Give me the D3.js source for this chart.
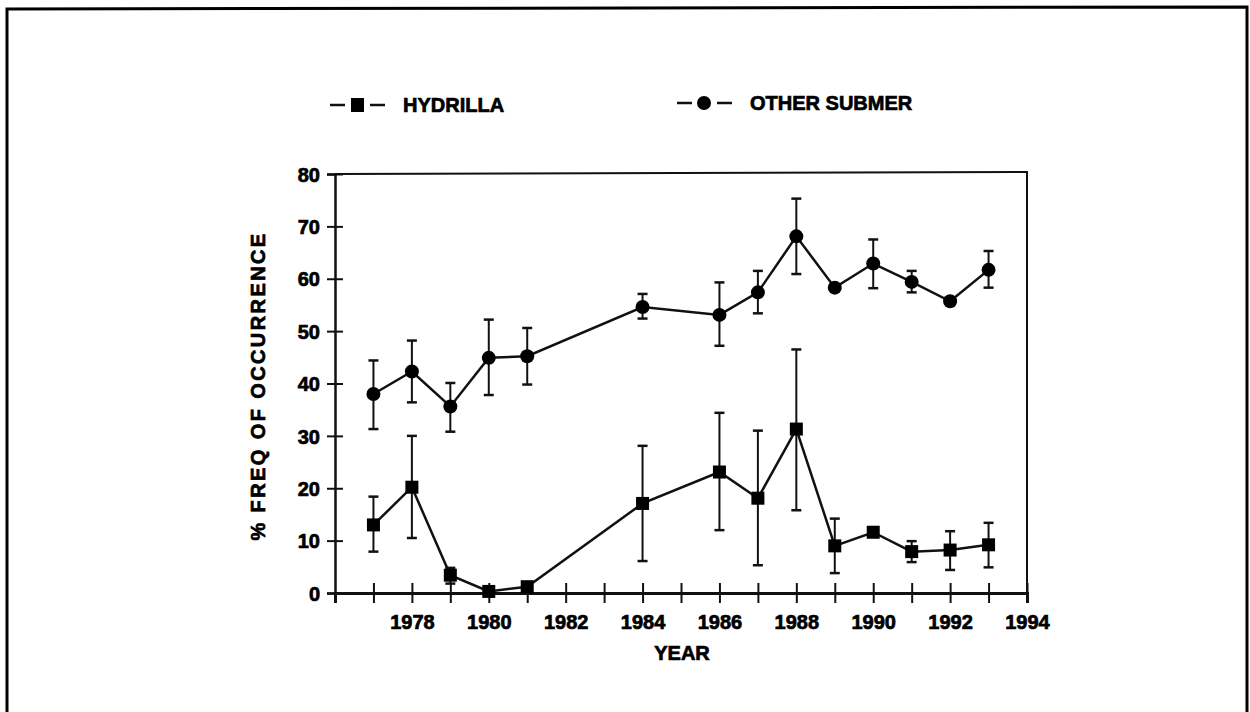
<!DOCTYPE html>
<html>
<head>
<meta charset="utf-8">
<script src="https://cdn.jsdelivr.net/npm/d3@7"></script>
<style>
  body { margin: 0; background: #fff; }
  text { font-family: 'Liberation Sans', Arial, sans-serif; font-weight: bold; fill: #000; stroke: #000; stroke-width: 0.7px; }
</style>
</head>
<body>
<div id="chart"></div>
<script>
// survey data, % frequency of occurrence by year
const years = [1977, 1978, 1979, 1980, 1981, 1984, 1986, 1987, 1988, 1989, 1990, 1991, 1992, 1993]

const hydrilla = [13.0, 20.2, 3.4, 0.3, 1.2, 17.1, 23.1, 18.1, 31.3, 9.0, 11.6, 7.9, 8.2, 9.2]
const hydrillaLo = [7.9, 10.5, 1.8, 0, 0.5, 6.1, 12.0, 5.3, 15.8, 3.8, null, 5.9, 4.4, 4.9]
const hydrillaHi = [18.4, 30.0, 4.8, 0.8, 1.8, 28.1, 34.4, 31.0, 46.5, 14.2, null, 9.9, 11.8, 13.4]

const other = [38.0, 42.3, 35.6, 44.9, 45.2, 54.6, 53.1, 57.4, 68.1, 58.3, 62.9, 59.4, 55.7, 61.7]
const otherLo = [31.3, 36.4, 30.8, 37.8, 39.8, 52.4, 47.2, 53.4, 60.9, null, 58.2, 57.4, null, 58.3]
const otherHi = [44.4, 48.2, 40.1, 52.2, 50.6, 57.1, 59.3, 61.5, 75.3, null, 67.5, 61.5, null, 65.3]

const yTicks = [0, 10, 20, 30, 40, 50, 60, 70, 80]
const xTicks = d3.range(1977, 1995)
const xLabels = [1978, 1980, 1982, 1984, 1986, 1988, 1990, 1992, 1994]

const W = 1250
const H = 712

const svg = d3.select('#chart')
  .append('svg')
  .attr('width', W)
  .attr('height', H)

// outer frame
svg.append('path')
  .attr('d', 'M7,720 L7,9 L1247,7 L1247,720')
  .attr('fill', 'none')
  .attr('stroke', '#000')
  .attr('stroke-width', 3)

const x = d3.scaleLinear().domain([1976, 1994]).range([335, 1027])
const y = d3.scaleLinear().domain([0, 80]).range([593, 174])

// top and right frame of plot
svg.append('path')
  .attr('d', `M${x(1976)},${y(80)} L${x(1994)},${y(80) - 2} L${x(1994)},${y(0)}`)
  .attr('fill', 'none')
  .attr('stroke', '#111')
  .attr('stroke-width', 2)

const yAxis = svg.append('g')
  .attr('transform', `translate(${x(1976)},0)`)
  .call(d3.axisLeft(y).tickValues(yTicks).tickSize(8).tickPadding(7))
yAxis.select('.domain').attr('stroke', '#111').attr('stroke-width', 2.5)
yAxis.selectAll('.tick line').attr('x1', 8).attr('stroke', '#111').attr('stroke-width', 2)
yAxis.selectAll('.tick text')
  .attr('font-size', 20)
  .attr('font-family', null)
  .attr('dy', '0.36em')

const xAxis = svg.append('g')
  .attr('transform', `translate(0,${y(0)})`)
  .call(d3.axisBottom(x).tickValues(xTicks).tickSize(10).tickPadding(12)
    .tickFormat(d => xLabels.includes(d) ? d : ''))
xAxis.select('.domain').attr('stroke', '#111').attr('stroke-width', 3)
xAxis.selectAll('.tick line').attr('y1', -10).attr('stroke', '#111').attr('stroke-width', 2)
xAxis.selectAll('.tick text')
  .attr('font-size', 20)
  .attr('font-family', null)

// axis titles
svg.append('text')
  .attr('transform', 'translate(265,386) rotate(-90)')
  .attr('text-anchor', 'middle')
  .attr('font-size', 20)
  .attr('letter-spacing', 2.4)
  .text('% FREQ OF OCCURRENCE')

svg.append('text')
  .attr('x', 682)
  .attr('y', 660)
  .attr('text-anchor', 'middle')
  .attr('font-size', 20)
  .text('YEAR')

function drawSeries (vals, lo, hi, shape) {
  const g = svg.append('g')
  const pts = years.map((yr, i) => ({ yr, v: vals[i], lo: lo[i], hi: hi[i] }))
  const bars = pts.filter(d => d.lo !== null)

  g.selectAll('.whisker')
    .data(bars)
    .enter().append('line')
    .attr('x1', d => x(d.yr))
    .attr('x2', d => x(d.yr))
    .attr('y1', d => y(d.lo))
    .attr('y2', d => y(d.hi))
    .attr('stroke', '#111')
    .attr('stroke-width', 2)

  g.selectAll('.capHi')
    .data(bars)
    .enter().append('line')
    .attr('x1', d => x(d.yr) - 5)
    .attr('x2', d => x(d.yr) + 5)
    .attr('y1', d => y(d.hi))
    .attr('y2', d => y(d.hi))
    .attr('stroke', '#111')
    .attr('stroke-width', 2.5)

  g.selectAll('.capLo')
    .data(bars)
    .enter().append('line')
    .attr('x1', d => x(d.yr) - 5)
    .attr('x2', d => x(d.yr) + 5)
    .attr('y1', d => y(d.lo))
    .attr('y2', d => y(d.lo))
    .attr('stroke', '#111')
    .attr('stroke-width', 2.5)

  g.append('path')
    .datum(pts)
    .attr('fill', 'none')
    .attr('stroke', '#111')
    .attr('stroke-width', 2.5)
    .attr('d', d3.line().x(d => x(d.yr)).y(d => y(d.v)))

  if (shape === 'square') {
    g.selectAll('rect')
      .data(pts)
      .enter().append('rect')
      .attr('x', d => x(d.yr) - 6.5)
      .attr('y', d => y(d.v) - 6.5)
      .attr('width', 13)
      .attr('height', 13)
      .attr('fill', '#000')
  } else {
    g.selectAll('circle')
      .data(pts)
      .enter().append('circle')
      .attr('cx', d => x(d.yr))
      .attr('cy', d => y(d.v))
      .attr('r', 7)
      .attr('fill', '#000')
  }
}

drawSeries(hydrilla, hydrillaLo, hydrillaHi, 'square')
drawSeries(other, otherLo, otherHi, 'circle')

// legend
const legend = [
  { name: 'HYDRILLA', shape: 'square', x0: 330, ty: 105 },
  { name: 'OTHER SUBMER', shape: 'circle', x0: 677, ty: 103 }
]
legend.forEach(l => {
  const g = svg.append('g')
  g.append('line').attr('x1', l.x0).attr('x2', l.x0 + 15)
    .attr('y1', l.ty).attr('y2', l.ty).attr('stroke', '#111').attr('stroke-width', 2.5)
  g.append('line').attr('x1', l.x0 + 40).attr('x2', l.x0 + 55)
    .attr('y1', l.ty).attr('y2', l.ty).attr('stroke', '#111').attr('stroke-width', 2.5)
  if (l.shape === 'square') {
    g.append('rect').attr('x', l.x0 + 21).attr('y', l.ty - 7).attr('width', 13).attr('height', 14).attr('fill', '#000')
  } else {
    g.append('circle').attr('cx', l.x0 + 27).attr('cy', l.ty).attr('r', 7).attr('fill', '#000')
  }
  g.append('text')
    .attr('x', l.x0 + 73)
    .attr('y', l.ty)
    .attr('dy', '0.36em')
    .attr('font-size', 20)
    .text(l.name)
})
</script>
</body>
</html>
